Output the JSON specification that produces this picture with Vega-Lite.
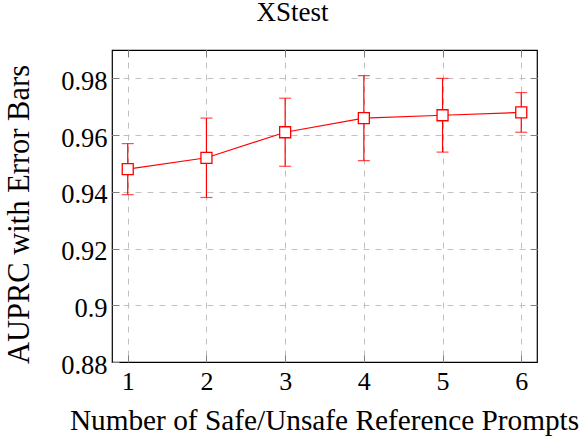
{
  "$schema": "https://vega.github.io/schema/vega-lite/v6.json",
  "width": 425,
  "height": 312,
  "autosize": {"type": "none"},
  "padding": {"left": 112, "top": 50, "right": 42, "bottom": 77},
  "background": "white",
  "config": {
    "font": "Liberation Serif",
    "view": {"stroke": "black", "strokeWidth": 1.2}
  },
  "title": {
    "text": "XStest",
    "fontSize": 27,
    "font": "Liberation Serif",
    "fontWeight": "normal",
    "color": "black",
    "dx": -32,
    "offset": 2,
    "baseline": "alphabetic"
  },
  "data": {
    "values": [
      {"n": 1, "auprc": 0.948, "lo": 0.939, "hi": 0.957},
      {"n": 2, "auprc": 0.952, "lo": 0.938, "hi": 0.966},
      {"n": 3, "auprc": 0.961, "lo": 0.949, "hi": 0.973},
      {"n": 4, "auprc": 0.966, "lo": 0.951, "hi": 0.981},
      {"n": 5, "auprc": 0.967, "lo": 0.954, "hi": 0.980},
      {"n": 6, "auprc": 0.968, "lo": 0.961, "hi": 0.975}
    ]
  },
  "resolve": {"axis": {"x": "independent", "y": "independent"}},
  "layer": [
    {
      "mark": {"type": "rule", "color": "#ff0000", "strokeWidth": 1.2},
      "encoding": {
        "x": {
          "field": "n", "type": "quantitative",
          "scale": {"domain": [0.8, 6.2], "nice": false, "zero": false},
          "axis": {
            "orient": "bottom",
            "values": [1, 2, 3, 4, 5, 6],
            "format": "d",
            "title": "Number of Safe/Unsafe Reference Prompts",
            "titleFontSize": 29.3,
            "titleFontWeight": "normal",
            "titleColor": "black",
            "titleX": 212,
            "titleY": 67,
            "titleAlign": "center",
            "titleBaseline": "alphabetic",
            "labelFontSize": 26,
            "labelColor": "black",
            "labelBaseline": "alphabetic",
            "labelPadding": 34,
            "labelFlush": false,
            "tickSize": -7,
            "tickColor": "#808080",
            "domain": false,
            "grid": true,
            "gridDash": [6, 6],
            "gridColor": "#c0c0c0",
            "gridWidth": 1
          }
        },
        "y": {
          "field": "lo", "type": "quantitative",
          "scale": {"domain": [0.88, 0.99], "nice": false, "zero": false},
          "axis": {
            "orient": "left",
            "values": [0.88, 0.9, 0.92, 0.94, 0.96, 0.98],
            "format": ".2~f",
            "title": "AUPRC with Error Bars",
            "titleFontSize": 30.5,
            "titleFontWeight": "normal",
            "titleColor": "black",
            "titleAngle": -90,
            "titleX": -84,
            "titleY": 164,
            "titleAlign": "center",
            "titleBaseline": "alphabetic",
            "labelFontSize": 26.5,
            "labelColor": "black",
            "labelPadding": 12,
            "labelOffset": 3,
            "labelFlush": false,
            "tickSize": -7,
            "tickColor": "#808080",
            "domain": false,
            "grid": false
          }
        },
        "y2": {"field": "hi"}
      }
    },
    {
      "mark": {"type": "tick", "orient": "horizontal", "color": "#ff0000", "size": 12, "thickness": 1.2},
      "encoding": {
        "x": {"field": "n", "type": "quantitative", "axis": null},
        "y": {"field": "lo", "type": "quantitative", "axis": null}
      }
    },
    {
      "mark": {"type": "tick", "orient": "horizontal", "color": "#ff0000", "size": 12, "thickness": 1.2},
      "encoding": {
        "x": {"field": "n", "type": "quantitative", "axis": null},
        "y": {"field": "hi", "type": "quantitative", "axis": null}
      }
    },
    {
      "mark": {"type": "line", "color": "#ff0000", "strokeWidth": 1.2},
      "encoding": {
        "x": {"field": "n", "type": "quantitative", "axis": null},
        "y": {"field": "auprc", "type": "quantitative", "axis": null}
      }
    },
    {
      "mark": {"type": "point", "shape": "square", "filled": true, "fill": "white", "stroke": "#ff0000", "strokeWidth": 1.3, "size": 121, "opacity": 1},
      "encoding": {
        "x": {
          "field": "n", "type": "quantitative",
          "axis": {
            "orient": "top",
            "values": [1, 2, 3, 4, 5, 6],
            "labels": false,
            "title": null,
            "tickSize": -7,
            "tickColor": "#808080",
            "domain": false,
            "grid": false
          }
        },
        "y": {
          "field": "auprc", "type": "quantitative",
          "axis": {
            "orient": "right",
            "values": [0.9, 0.92, 0.94, 0.96, 0.98],
            "labels": false,
            "title": null,
            "tickSize": -7,
            "tickColor": "#808080",
            "domain": false,
            "grid": true,
            "gridDash": [6, 6],
            "gridColor": "#c0c0c0",
            "gridWidth": 1
          }
        }
      }
    }
  ]
}
